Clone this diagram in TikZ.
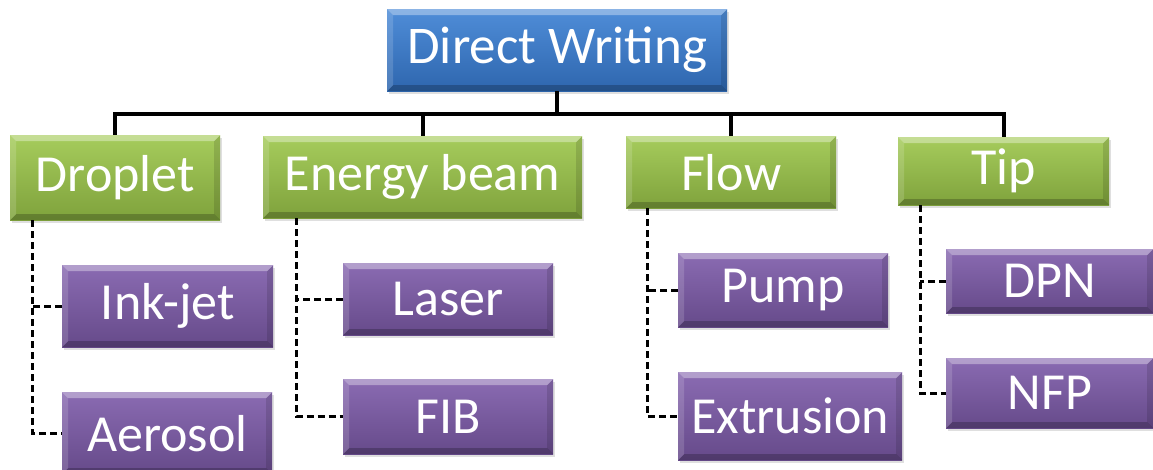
\documentclass[tikz,border=0pt]{standalone}
\usepackage{fontspec}
\setmainfont{Carlito}
\usetikzlibrary{shadows}

\definecolor{bluetop}{HTML}{4F8DD8}
\definecolor{bluebot}{HTML}{2E66AE}
\definecolor{greentop}{HTML}{A6CC5C}
\definecolor{greenbot}{HTML}{7FA23C}
\definecolor{purptop}{HTML}{8A6BB2}
\definecolor{purpbot}{HTML}{664A8A}

\tikzset{
  bevelbox/.style={
    anchor=north west, inner sep=0pt, text=white,
    font=\fontsize{52}{56}\selectfont,
    drop shadow={shadow xshift=2pt, shadow yshift=-3pt, opacity=0.25},
    path picture={
      \fill[white, opacity=0.35]
        (path picture bounding box.north west) -- (path picture bounding box.north east)
        -- ([shift={(-6pt,-6pt)}]path picture bounding box.north east)
        -- ([shift={(6pt,-6pt)}]path picture bounding box.north west) -- cycle;
      \fill[white, opacity=0.15]
        (path picture bounding box.north west) -- ([shift={(6pt,-6pt)}]path picture bounding box.north west)
        -- ([shift={(6pt,6pt)}]path picture bounding box.south west)
        -- (path picture bounding box.south west) -- cycle;
      \fill[black, opacity=0.12]
        (path picture bounding box.north east) -- ([shift={(-6pt,-6pt)}]path picture bounding box.north east)
        -- ([shift={(-6pt,6pt)}]path picture bounding box.south east)
        -- (path picture bounding box.south east) -- cycle;
      \fill[black, opacity=0.22]
        (path picture bounding box.south west) -- (path picture bounding box.south east)
        -- ([shift={(-6pt,6pt)}]path picture bounding box.south east)
        -- ([shift={(6pt,6pt)}]path picture bounding box.south west) -- cycle;
    }
  },
  rootbox/.style={bevelbox, top color=bluetop, bottom color=bluebot, font=\fontsize{53}{57}\selectfont},
  catbox/.style={bevelbox, top color=greentop, bottom color=greenbot},
  leafbox/.style={bevelbox, top color=purptop, bottom color=purpbot},
  trunk/.style={line width=4pt, black},
  branch/.style={line width=3pt, black, dash pattern=on 7pt off 4pt}
}

\begin{document}
\begin{tikzpicture}[x=1pt, y=-1pt]
  \clip (0,0) rectangle (1153,470);
  \fill[white] (0,0) rectangle (1153,470);

  % root
  \node[rootbox, minimum width=340pt, minimum height=82pt] (root) at (387,9) {Direct Writing};

  % categories
  \node[catbox, minimum width=210pt, minimum height=85pt] (droplet) at (10,135) {Droplet};
  \node[catbox, minimum width=319pt, minimum height=82pt] (energy) at (263,136) {Energy beam};
  \node[catbox, minimum width=210pt, minimum height=72pt] (flow) at (626,136) {Flow};
  \node[catbox, minimum width=211pt, minimum height=68pt] (tip) at (898,137) {Tip};

  % methods
  \node[leafbox, minimum width=211pt, minimum height=82pt] (inkjet) at (62,265) {Ink-jet};
  \node[leafbox, minimum width=210pt, minimum height=82pt] (aerosol) at (62,392) {Aerosol};
  \node[leafbox, minimum width=210pt, minimum height=72pt] (laser) at (343,263) {Laser};
  \node[leafbox, minimum width=210pt, minimum height=75pt] (fib) at (343,379) {FIB};
  \node[leafbox, minimum width=210pt, minimum height=74pt] (pump) at (678,253) {Pump};
  \node[leafbox, minimum width=224pt, minimum height=88pt] (extrusion) at (678,372) {Extrusion};
  \node[leafbox, minimum width=207pt, minimum height=64pt] (dpn) at (946,249) {DPN};
  \node[leafbox, minimum width=207pt, minimum height=70pt] (nfp) at (946,358) {NFP};

  % tree trunk
  \coordinate (bar) at (0,114);
  \draw[trunk] (root.south) -- (root.south |- bar);
  \draw[trunk] (droplet.north) |- (tip.north |- bar) -- (tip.north);
  \draw[trunk] (energy.north) -- (energy.north |- bar);
  \draw[trunk] (flow.north) -- (flow.north |- bar);

  % dashed branches
  \coordinate (d1) at ([xshift=22pt]droplet.south west);
  \draw[branch] (d1) |- (aerosol.west);
  \draw[branch] (inkjet.west) -- (inkjet.west -| d1);

  \coordinate (d2) at ([xshift=33pt]energy.south west);
  \draw[branch] (d2) |- (fib.west);
  \draw[branch] (laser.west) -- (laser.west -| d2);

  \coordinate (d3) at ([xshift=21pt]flow.south west);
  \draw[branch] (d3) |- (extrusion.west);
  \draw[branch] (pump.west) -- (pump.west -| d3);

  \coordinate (d4) at ([xshift=22pt]tip.south west);
  \draw[branch] (d4) |- (nfp.west);
  \draw[branch] (dpn.west) -- (dpn.west -| d4);
\end{tikzpicture}
\end{document}
